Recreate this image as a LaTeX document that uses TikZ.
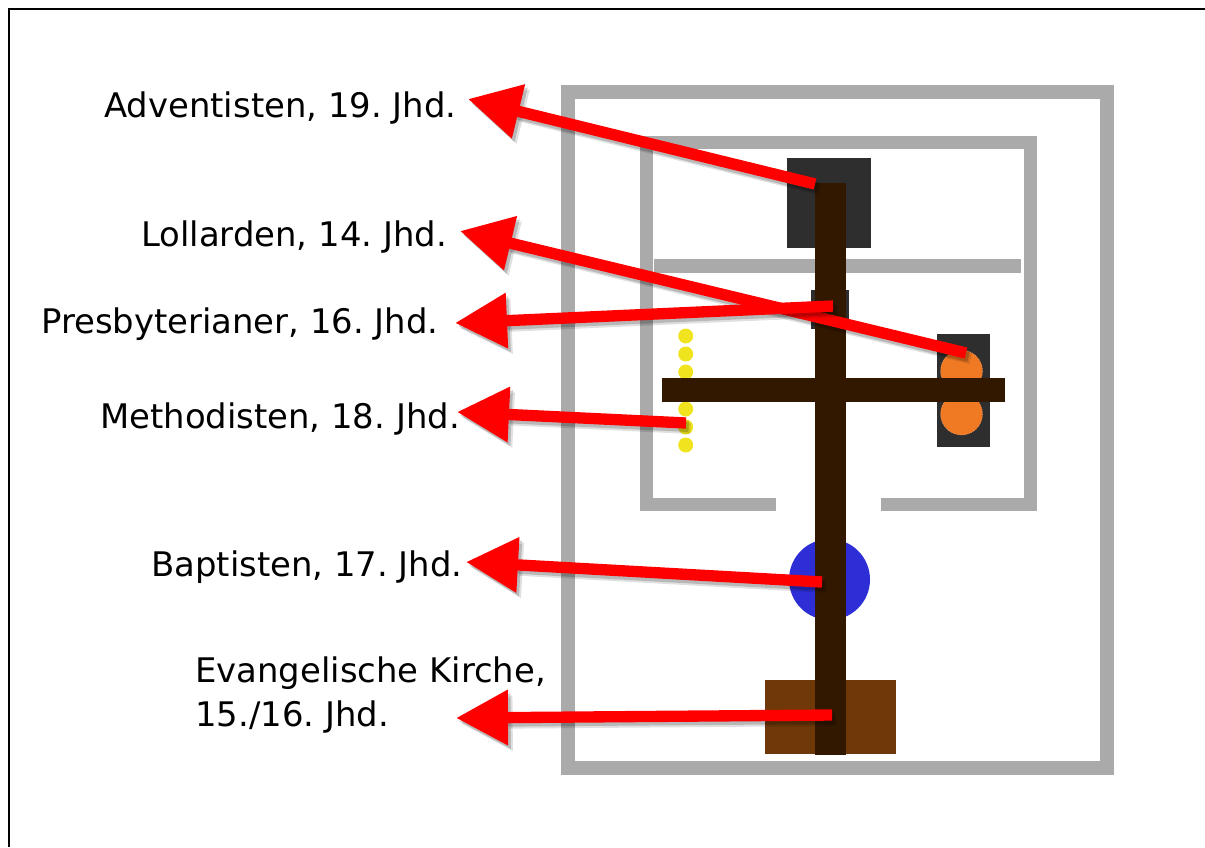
\documentclass[tikz,border=0pt]{standalone}
\usepackage{fontspec}
\setmainfont{DejaVu Sans}
\usetikzlibrary{arrows.meta}
\usetikzlibrary{positioning}

\tikzset{
  wall/.style={draw=wallgrey,line width=10pt},
  wallthin/.style={draw=wallgrey,line width=9.75pt},
  darkbox/.style={fill=boxdark},
  beam/.style={fill=crossbrown},
  lamp/.style={fill=lamporange,draw=lamporange!60!white,line width=0.4pt,densely dotted},
  bead/.style={fill=beadyellow},
  lbl/.style={anchor=base west,inner sep=0pt,font=\fontsize{25.4pt}{32pt}\selectfont\frenchspacing,text=black},
  redarrow/.style={-{Triangle[length=39pt,width=39.5pt]},draw=red,fill=red,line width=8.5pt},
  arrowshadow/.style={-{Triangle[length=39pt,width=39.5pt]},draw=black,fill=black,line width=8.5pt},
}
\definecolor{wallgrey}{RGB}{170,170,170}
\definecolor{boxdark}{RGB}{46,46,46}
\definecolor{crossbrown}{RGB}{51,24,0}
\definecolor{lamporange}{RGB}{240,122,36}
\definecolor{beadyellow}{RGB}{240,228,30}
\definecolor{floorbrown}{RGB}{110,56,8}
\definecolor{fontblue}{RGB}{46,46,214}

\begin{document}
\begin{tikzpicture}[x=0.75pt,y=0.75pt,yscale=-1,xscale=1]
\useasboundingbox (0,0) rectangle (1205,847);

%Picture frame
\draw [line width=1.1pt]   (9,847) -- (9,9) -- (1205,9) ;

%Outer wall
\draw [wall]   (568,92) rectangle (1107,768) ;
%Inner wall
\draw [wallthin]   (776,504.5) -- (646,504.5) -- (646,142.5) -- (1030,142.5) -- (1030,504.5) -- (881,504.5) ;
\fill [wallgrey]   (654,259) rectangle (1021,273) ;

%Dark boxes
\fill [darkbox]   (787,158) rectangle (871,248) ;
\fill [darkbox]   (811,290) rectangle (849,329) ;
\fill [darkbox]   (937,334) rectangle (990,447) ;
%Lamps
\draw [lamp]   (961.5,371) circle (21) ;
\draw [lamp]   (961.5,414) circle (21) ;
%Beads
\foreach \yb in {336,354,372,390,409,427,445}
  \fill [bead] (685.7,\yb) circle (7.5) ;
%Font and floor
\fill [fontblue]   (829.5,579.5) ellipse (40.5 and 40.5) ;
\fill [floorbrown]   (765,680) rectangle (896,754) ;
%Cross
\fill [beam]   (815,183) rectangle (846,755) ;
\fill [beam]   (662,378) rectangle (1005,402) ;

% Text Node
\node [lbl] (adventisten) at (104,117) {Adventisten, 19. Jhd.};
% Text Node
\node [lbl] (lollarden) at (141,246) {Lollarden, 14. Jhd.};
% Text Node
\node [lbl] (presbyterianer) at (41,333) {Presbyterianer, 16. Jhd.};
% Text Node
\node [lbl] (methodisten) at (100,428) {Methodisten, 18. Jhd.};
% Text Node
\node [lbl] (baptisten) at (151,576) {Baptisten, 17. Jhd.};
% Text Node
\node [lbl] (evangelisch) at (195,682) {Evangelische Kirche,};
% Text Node
\node [lbl] (evangelischzwei) at (195,726) {15./16. Jhd.};

%Arrow ends
\coordinate (lollardenTip) at (460,231);
\coordinate (lollardenEnd) at (966,353);
\coordinate (adventistenTip) at (468,99);
\coordinate (adventistenEnd) at (815,184);
\coordinate (presbyterianerTip) at (455,323);
\coordinate (presbyterianerEnd) at (833,306);
\coordinate (methodistenTip) at (457,412);
\coordinate (methodistenEnd) at (686,423);
\coordinate (baptistenTip) at (466,562);
\coordinate (baptistenEnd) at (822,582);
\coordinate (evangelischTip) at (456,718);
\coordinate (evangelischEnd) at (832,715);

%Straight Lines
\foreach \nm in {lollarden,adventisten,presbyterianer,methodisten,baptisten,evangelisch} {
  \draw [arrowshadow,opacity=0.12,transform canvas={shift={(3.5pt,-4pt)}}]   (\nm End) -- (\nm Tip) ;
  \draw [arrowshadow,opacity=0.18,transform canvas={shift={(2pt,-2.5pt)}}]   (\nm End) -- (\nm Tip) ;
  \draw [redarrow]   (\nm End) -- (\nm Tip) ;
}

\end{tikzpicture}
\end{document}
